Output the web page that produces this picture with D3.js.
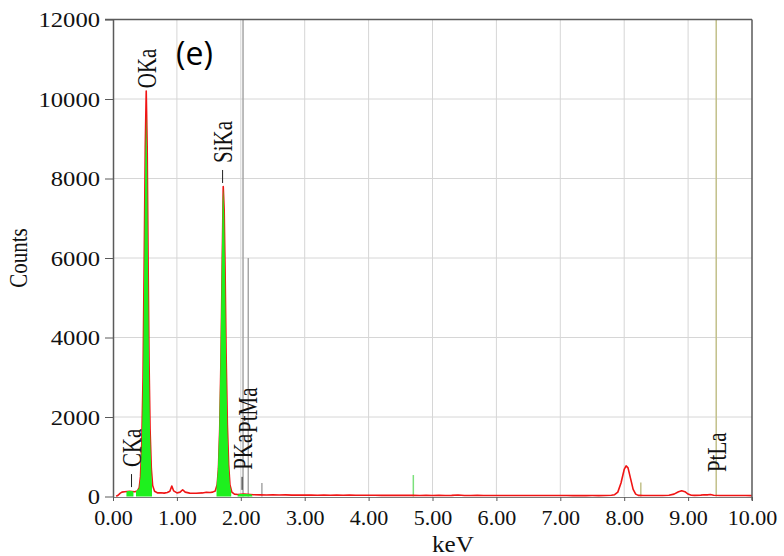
<!DOCTYPE html>
<html>
<head>
<meta charset="utf-8">
<script src="https://cdn.jsdelivr.net/npm/d3@7"></script>
<style>
  html, body { margin: 0; padding: 0; background: #fff; }
  svg { display: block; }
</style>
</head>
<body>
<svg id="chart" width="784" height="556"></svg>
<script>
// ---------------- DATA ----------------
const xTicks = [0, 1, 2, 3, 4, 5, 6, 7, 8, 9, 10];
const yTicks = [0, 2000, 4000, 6000, 8000, 10000, 12000];

// Measured spectrum (keV, counts)
const specEnergy = [0.05,0.08,0.11,0.14,0.18,0.22,0.26,0.30,0.34,0.38,0.41,0.43,0.45,0.47,0.49,0.505,0.52,0.535,0.55,0.565,0.58,0.60,0.62,0.65,0.70,0.75,0.80,0.85,0.89,0.92,0.95,1.00,1.05,1.09,1.13,1.20,1.30,1.40,1.46,1.52,1.56,1.60,1.63,1.65,1.67,1.69,1.71,1.725,1.74,1.755,1.77,1.79,1.81,1.83,1.86,1.90,1.95,2.00,2.05,2.10,2.15,2.20,2.30,2.40,2.50,2.60,2.70,2.80,2.90,3.00,3.10,3.20,3.30,3.40,3.50,3.60,3.70,3.80,3.90,4.00,4.10,4.20,4.30,4.40,4.50,4.60,4.70,4.80,4.90,5.00,5.10,5.20,5.30,5.40,5.50,5.60,5.70,5.80,5.90,6.00,6.10,6.20,6.30,6.40,6.50,6.60,6.70,6.80,6.90,7.00,7.10,7.20,7.30,7.40,7.50,7.60,7.70,7.80,7.85,7.90,7.95,8.00,8.03,8.06,8.10,8.14,8.18,8.22,8.30,8.40,8.50,8.60,8.70,8.78,8.85,8.90,8.95,9.00,9.05,9.10,9.20,9.25,9.30,9.35,9.40,9.50,9.60,9.70,9.80,9.90,10.00];
const specCounts = [5,30,80,110,120,125,130,125,120,135,220,500,1300,3000,6200,8800,10200,8800,5800,3300,1700,700,280,130,90,95,85,100,130,265,140,90,110,170,110,85,80,90,105,100,110,140,300,700,1700,3500,6000,7800,7200,5600,3600,1800,800,300,110,60,50,55,60,55,50,45,40,38,42,36,40,35,38,34,37,33,36,32,35,31,34,30,33,30,32,29,31,28,30,28,30,27,29,27,29,26,28,36,27,26,28,25,27,25,27,25,26,24,26,24,26,24,25,24,25,23,25,23,24,23,25,30,45,110,340,680,770,720,450,180,60,28,25,24,25,24,30,60,120,145,120,60,32,28,35,45,40,50,30,25,24,25,24,24,23];

// Fitted peak areas (green)
const greenOEnergy = [0.36,0.36,0.41,0.43,0.45,0.47,0.49,0.505,0.52,0.535,0.55,0.565,0.58,0.60,0.61];
const greenOCounts = [0,130,210,480,1250,2900,6000,8500,9600,8300,5500,3100,1600,650,300];
const greenCEnergy = [0.21,0.23,0.30,0.32];
const greenCCounts = [120,140,140,120];
const greenSiEnergy = [1.62,1.64,1.66,1.68,1.70,1.715,1.725,1.74,1.755,1.77,1.79,1.81,1.83,1.85];
const greenSiCounts = [250,650,1600,3300,5700,7400,7750,7100,5500,3500,1700,750,280,120];
const greenPEnergy = [1.95,1.98,2.10,2.17,2.18];
const greenPCounts = [40,65,65,50,20];

// Element marker lines (keV, top count, colour class)
const lineEnergy = [2.035, 2.117, 2.33, 4.70, 8.26, 9.44];
const lineTop    = [12000, 6000, 340, 540, 350, 12000];
const lineKind   = ["gray", "gray", "gray", "green", "olive", "olive"];

// Peak labels (name, keV, count where label starts, has dash)
const labelNames  = ["OKa", "SiKa", "CKa", "PKa", "PtMa", "PtLa"];
const labelEnergy = [0.53, 1.715, 0.29, 2.02, 2.10, 9.44];
const labelCount  = [10270, 8390, 740, 670, 1600, 615];
const labelDash   = [false, true, true, true, false, false];

// ---------------- CHART ----------------
const svg = d3.select("#chart");
const x = d3.scaleLinear().domain([0, 10]).range([113, 752]);
const y = d3.scaleLinear().domain([0, 12000]).range([496.5, 19.5]);
const serif = "'Liberation Serif', 'Times New Roman', serif";
const colors = { gray: "#a6a6a6", green: "#7be07b", olive: "#c2c08a" };

// grid
svg.append("g").selectAll("line").data(xTicks.slice(1, -1)).join("line")
  .attr("x1", d => x(d)).attr("x2", d => x(d))
  .attr("y1", y(12000)).attr("y2", y(0))
  .attr("stroke", "#d6d6d6").attr("stroke-width", 1);
svg.append("g").selectAll("line").data(yTicks.slice(1, -1)).join("line")
  .attr("x1", x(0)).attr("x2", x(10))
  .attr("y1", d => y(d)).attr("y2", d => y(d))
  .attr("stroke", "#d6d6d6").attr("stroke-width", 1);

// marker lines
svg.append("g").selectAll("line").data(lineEnergy).join("line")
  .attr("x1", d => x(d)).attr("x2", d => x(d))
  .attr("y1", (d, i) => y(lineTop[i])).attr("y2", y(0))
  .attr("stroke", (d, i) => colors[lineKind[i]]).attr("stroke-width", 1.5);

// red spectrum
const line = d3.line().x(d => x(d[0])).y(d => y(d[1]));
svg.append("path").datum(specEnergy.map((v, i) => [v, specCounts[i]]))
  .attr("d", line).attr("fill", "none").attr("stroke", "#f01414")
  .attr("stroke-width", 1.6).attr("stroke-linejoin", "round");

// green fitted areas (drawn over the spectrum, as in the reference)
const area = d3.area().x(d => x(d[0])).y0(y(0)).y1(d => y(d[1]));
[[greenOEnergy, greenOCounts], [greenCEnergy, greenCCounts],
 [greenSiEnergy, greenSiCounts], [greenPEnergy, greenPCounts]].forEach(([e, c]) => {
  svg.append("path").datum(e.map((v, i) => [v, c[i]]))
    .attr("d", area).attr("fill", "#1ef01e");
});

// axes
const yAxis = svg.append("g").attr("transform", `translate(${x(0)},0)`)
  .call(d3.axisLeft(y).tickValues(yTicks).tickSize(8).tickSizeOuter(0).tickFormat(d3.format("d")));
yAxis.select(".domain").attr("stroke", "#5a5a5a").attr("stroke-width", 1.5);
yAxis.selectAll(".tick line").attr("stroke", "#5a5a5a");
yAxis.selectAll(".tick text")
  .attr("x", -13 / 1.12).attr("transform", "scale(1.12,1)")
  .attr("font-family", serif).attr("font-size", 22).attr("fill", "#111");

const xAxis = svg.append("g").attr("transform", `translate(0,${y(0) + 0.5})`)
  .call(d3.axisBottom(x).tickValues(xTicks).tickSize(4).tickSizeOuter(0).tickPadding(9).tickFormat(d3.format(".2f")));
xAxis.select(".domain").attr("stroke", "#7a7a7a").attr("stroke-width", 1.2);
xAxis.selectAll(".tick line").attr("stroke", "#5a5a5a");
xAxis.selectAll(".tick text").attr("transform", "scale(1.05,1)")
  .attr("font-family", serif).attr("font-size", 21).attr("fill", "#111");

// frame (top and right)
svg.append("line").attr("x1", x(0) - 8).attr("x2", x(10)).attr("y1", y(12000)).attr("y2", y(12000))
  .attr("stroke", "#5a5a5a").attr("stroke-width", 1.5);
svg.append("line").attr("x1", x(10)).attr("x2", x(10)).attr("y1", y(12000)).attr("y2", y(0) + 4)
  .attr("stroke", "#5a5a5a").attr("stroke-width", 1.5);

// axis titles
svg.append("text").attr("transform", "translate(27,258) scale(1.15,1) rotate(-90)")
  .attr("text-anchor", "middle").attr("font-family", serif).attr("font-size", 21).attr("fill", "#111")
  .text("Counts");
svg.append("text").attr("transform", "translate(453,552) scale(1.05,1)")
  .attr("text-anchor", "middle").attr("font-family", serif).attr("font-size", 24).attr("fill", "#111")
  .text("keV");

// panel label
svg.append("text").attr("x", 176).attr("y", 65)
  .attr("font-family", "'Open Sans', 'Noto Sans', sans-serif").attr("font-size", 32).attr("fill", "#000")
  .text("(e)");

// peak labels
const lab = svg.append("g");
labelNames.forEach((name, i) => {
  const px = x(labelEnergy[i]), py = y(labelCount[i]);
  lab.append("text")
    .attr("transform", `translate(${px},${py}) scale(1.3,1) rotate(-90)`)
    .attr("dominant-baseline", "central")
    .attr("font-family", serif).attr("font-size", 21).attr("fill", "#111")
    .text(name);
  if (labelDash[i]) {
    lab.append("line").attr("x1", px).attr("x2", px)
      .attr("y1", py + 7).attr("y2", py + 20)
      .attr("stroke", "#222").attr("stroke-width", 1);
  }
});
</script>
</body>
</html>
